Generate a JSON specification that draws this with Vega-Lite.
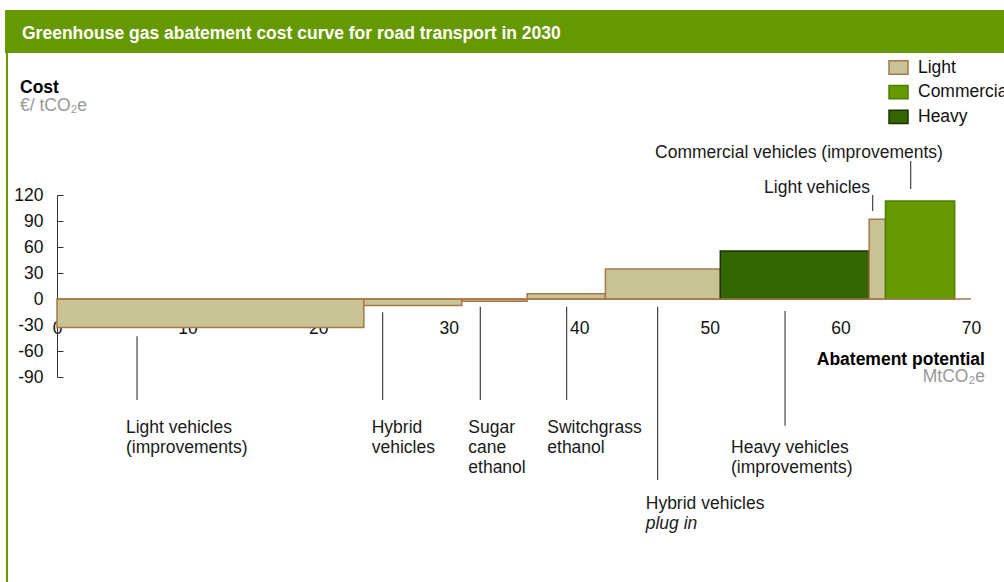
{
  "$schema": "https://vega.github.io/schema/vega-lite/v6.json",
  "width": 914,
  "height": 182,
  "autosize": {"type": "none"},
  "padding": {"left": 57, "top": 195, "right": 33, "bottom": 205},
  "background": "white",
  "config": {
    "view": {"stroke": null},
    "font": "Liberation Sans",
    "text": {"font": "Liberation Sans", "fontSize": 17.5, "lineHeight": 20, "color": "#1a1a1a"}
  },
  "datasets": {
    "header": [{"x": -3.98, "x2": 73, "y": 283.8, "y2": 333.5}],
    "frame": [{"x": -3.83, "y": 283.8, "y2": -340}],
    "bars": [
      {"measure": "Light vehicles (improvements)", "segment": "Light", "x": 0, "x2": 23.5, "y": 0, "y2": -33},
      {"measure": "Hybrid vehicles", "segment": "Light", "x": 23.5, "x2": 31.0, "y": 0, "y2": -7.5},
      {"measure": "Sugar cane ethanol", "segment": "Light", "x": 31.0, "x2": 36.0, "y": 0, "y2": -2.5},
      {"measure": "Switchgrass ethanol", "segment": "Light", "x": 36.0, "x2": 42.0, "y": 0, "y2": 6},
      {"measure": "Hybrid vehicles plug in", "segment": "Light", "x": 42.0, "x2": 50.8, "y": 0, "y2": 34.5},
      {"measure": "Heavy vehicles (improvements)", "segment": "Heavy", "x": 50.8, "x2": 62.2, "y": 0, "y2": 55.5},
      {"measure": "Light vehicles", "segment": "Light", "x": 62.2, "x2": 63.45, "y": 0, "y2": 92},
      {"measure": "Commercial vehicles (improvements)", "segment": "Commercial", "x": 63.45, "x2": 68.75, "y": 0, "y2": 113}
    ],
    "baseline": [{"x": 0, "x2": 70, "y": 0}],
    "leaders": [
      {"x": 6.13, "y": -43.1, "y2": -116.5},
      {"x": 24.94, "y": -15.3, "y2": -116.5},
      {"x": 32.42, "y": -8.9, "y2": -116.5},
      {"x": 39.03, "y": -8.9, "y2": -116.5},
      {"x": 46.0, "y": -8.9, "y2": -208.8},
      {"x": 55.76, "y": -13.8, "y2": -146.2},
      {"x": 62.47, "y": 120, "y2": 101.5},
      {"x": 65.38, "y": 159.2, "y2": 126.9}
    ],
    "labels": [
      {"x": 5.28, "y": -154.3, "text": ["Light vehicles", "(improvements)"]},
      {"x": 24.10, "y": -154.3, "text": ["Hybrid", "vehicles"]},
      {"x": 31.50, "y": -154.3, "text": ["Sugar", "cane", "ethanol"]},
      {"x": 37.55, "y": -154.3, "text": ["Switchgrass", "ethanol"]},
      {"x": 45.09, "y": -242.3, "text": ["Hybrid vehicles"]},
      {"x": 51.62, "y": -178.0, "text": ["Heavy vehicles", "(improvements)"]},
      {"x": 54.15, "y": 122.7, "text": ["Light vehicles"]},
      {"x": 45.80, "y": 162.3, "text": ["Commercial vehicles (improvements)"]}
    ],
    "italic": [{"x": 45.09, "y": -265.4, "text": "plug in"}],
    "title": [{"x": -2.68, "y": 300, "text": "Greenhouse gas abatement cost curve for road transport in 2030"}],
    "leftBold": [{"x": -2.834, "y": 237.7, "text": "Cost"}],
    "leftUnit": [{"x": -2.834, "y": 217.3, "text": "€/ tCO₂e"}],
    "rightBold": [{"x": 71.07, "y": -76, "text": "Abatement potential"}],
    "rightUnit": [{"x": 71.07, "y": -96, "text": "MtCO₂e"}]
  },
  "encoding": {
    "x": {
      "field": "x", "type": "quantitative",
      "scale": {"domain": [0, 70], "nice": false, "zero": false},
      "axis": {
        "title": null, "values": [0, 10, 20, 30, 40, 50, 60, 70], "domain": false, "ticks": false, "tickSize": 0,
        "grid": false, "offset": -78, "labelPadding": 20, "labelFontSize": 17.5, "labelFont": "Liberation Sans",
        "labelColor": "#111111", "labelFlush": false, "labelOverlap": false
      }
    },
    "y": {
      "field": "y", "type": "quantitative",
      "scale": {"domain": [-90, 120], "nice": false, "zero": false},
      "axis": {
        "title": null, "values": [-90, -60, -30, 0, 30, 60, 90, 120], "domain": true, "domainColor": "#333333",
        "ticks": true, "tickSize": -6, "tickColor": "#333333", "labelPadding": 20, "grid": false,
        "labelExpr": "replace(datum.label, '−', '-')",
        "labelFontSize": 17.5, "labelFont": "Liberation Sans", "labelColor": "#111111", "labelOverlap": false, "labelFlush": false
      }
    }
  },
  "layer": [
    {
      "data": {"name": "header"},
      "mark": {"type": "rect", "color": "#669900", "clip": false},
      "encoding": {"x2": {"field": "x2"}, "y2": {"field": "y2"}}
    },
    {
      "data": {"name": "frame"},
      "mark": {"type": "rule", "color": "#669900", "strokeWidth": 2, "clip": false},
      "encoding": {"y2": {"field": "y2"}}
    },
    {
      "data": {"name": "bars"},
      "mark": {"type": "rect", "strokeWidth": 1.5, "clip": false},
      "encoding": {
        "x2": {"field": "x2"},
        "y2": {"field": "y2"},
        "fill": {
          "field": "segment", "type": "nominal",
          "scale": {"domain": ["Light", "Commercial", "Heavy"], "range": ["#c8c496", "#669900", "#336600"]},
          "legend": {
            "title": null, "orient": "none", "legendX": 831, "legendY": -138,
            "symbolType": "M-1,-0.7H1V0.7H-1Z", "symbolSize": 361, "symbolStrokeWidth": 1.5,
            "labelFontSize": 17.5, "labelFont": "Liberation Sans", "labelColor": "#111111", "labelOffset": 9,
            "rowPadding": 3.7, "labelLimit": 300
          }
        },
        "stroke": {
          "field": "segment", "type": "nominal",
          "scale": {"domain": ["Light", "Commercial", "Heavy"], "range": ["#a8784a", "#4d7f00", "#1a3300"]},
          "legend": {
            "title": null, "orient": "none", "legendX": 831, "legendY": -138,
            "symbolType": "M-1,-0.7H1V0.7H-1Z", "symbolSize": 361, "symbolStrokeWidth": 1.5,
            "labelFontSize": 17.5, "labelFont": "Liberation Sans", "labelColor": "#111111", "labelOffset": 9,
            "rowPadding": 3.7, "labelLimit": 300
          }
        },
        "tooltip": {"field": "measure"}
      }
    },
    {
      "data": {"name": "baseline"},
      "mark": {"type": "rule", "color": "#a8784a", "strokeWidth": 1.5, "clip": false},
      "encoding": {"x2": {"field": "x2"}}
    },
    {
      "data": {"name": "leaders"},
      "mark": {"type": "rule", "color": "#444444", "strokeWidth": 1.2, "clip": false},
      "encoding": {"y2": {"field": "y2"}}
    },
    {
      "data": {"name": "labels"},
      "mark": {"type": "text", "align": "left", "baseline": "alphabetic", "fontSize": 17.5, "lineHeight": 20, "color": "#1a1a1a", "clip": false},
      "encoding": {"text": {"field": "text"}}
    },
    {
      "data": {"name": "italic"},
      "mark": {"type": "text", "align": "left", "baseline": "alphabetic", "fontSize": 17.5, "fontStyle": "italic", "color": "#1a1a1a", "clip": false},
      "encoding": {"text": {"field": "text"}}
    },
    {
      "data": {"name": "title"},
      "mark": {"type": "text", "align": "left", "baseline": "alphabetic", "fontSize": 17.5, "fontWeight": "bold", "color": "#ffffff", "clip": false},
      "encoding": {"text": {"field": "text"}}
    },
    {
      "data": {"name": "leftBold"},
      "mark": {"type": "text", "align": "left", "baseline": "alphabetic", "fontSize": 17.5, "fontWeight": "bold", "color": "#000000", "clip": false},
      "encoding": {"text": {"field": "text"}}
    },
    {
      "data": {"name": "leftUnit"},
      "mark": {"type": "text", "align": "left", "baseline": "alphabetic", "fontSize": 17.5, "color": "#999999", "clip": false},
      "encoding": {"text": {"field": "text"}}
    },
    {
      "data": {"name": "rightBold"},
      "mark": {"type": "text", "align": "right", "baseline": "alphabetic", "fontSize": 17.5, "fontWeight": "bold", "color": "#000000", "clip": false},
      "encoding": {"text": {"field": "text"}}
    },
    {
      "data": {"name": "rightUnit"},
      "mark": {"type": "text", "align": "right", "baseline": "alphabetic", "fontSize": 17.5, "color": "#999999", "clip": false},
      "encoding": {"text": {"field": "text"}}
    }
  ]
}
